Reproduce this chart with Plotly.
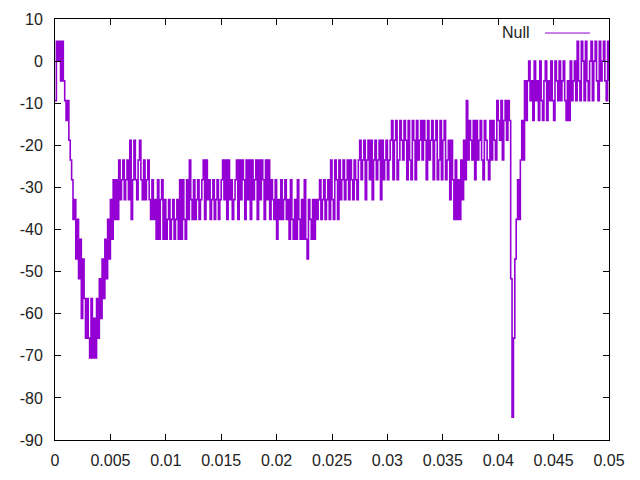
# plot.py
# gnuplot-style recreation of the "Null" trace (quantised signal, 0 - 0.05 s)

import plotly.graph_objects as go

# sample spacing of the trace (x axis), first sample at 0
sample_start = 0.0
sample_step = 0.000125

# trace values, one per sample
null_values = [
    # start + fall into the first trough
    -9.4, 4.7, 0, 4.7, -4.7, 4.7, -4.7, -9.4, -14.1, -9.4,
    -18.8, -23.5, -28.2, -37.6, -32.9, -47.0, -37.6, -51.7, -42.3, -61.1,
    -47.0, -56.4, -65.8, -56.4, -65.8, -70.5, -56.4, -70.5, -61.1, -70.5,
    -56.4, -65.8, -51.7, -61.1, -47.0, -56.4, -42.3, -51.7, -37.6, -47.0,
    -32.9, -42.3, -28.2, -37.6, -28.2, -37.6, -23.5, -32.9,
    # plateau around -30
    -28.2, -23.5, -32.9, -28.2, -23.5, -32.9, -18.8, -37.6, -28.2, -18.8,
    -28.2, -32.9, -23.5, -18.8, -28.2, -32.9, -23.5, -32.9, -28.2, -23.5,
    -32.9, -37.6, -28.2, -37.6, -32.9, -42.3, -28.2, -42.3, -32.9,
    -28.2, -42.3, -32.9, -42.3, -37.6, -32.9, -42.3, -37.6, -32.9, -42.3,
    -37.6, -32.9, -42.3, -28.2, -42.3, -28.2, -37.6, -42.3, -28.2,
    -37.6, -23.5, -32.9, -37.6, -28.2, -37.6, -32.9, -28.2, -37.6, -32.9,
    -28.2, -23.5, -37.6, -23.5, -32.9, -28.2, -37.6, -32.9, -28.2, -37.6,
    -32.9, -28.2, -37.6, -32.9, -28.2, -23.5, -32.9, -23.5, -37.6, -23.5,
    -32.9, -28.2, -37.6, -32.9, -28.2, -23.5, -37.6, -23.5, -32.9, -23.5,
    -28.2, -37.6, -23.5, -32.9, -23.5, -37.6, -23.5, -32.9, -28.2, -23.5,
    -37.6, -23.5, -32.9, -23.5, -28.2, -37.6, -23.5, -32.9, -23.5, -37.6, -28.2, -32.9,
    -37.6, -28.2, -42.3, -32.9, -37.6, -28.2, -37.6, -32.9, -28.2, -37.6,
    -32.9, -42.3, -28.2, -37.6, -42.3, -32.9, -42.3, -28.2, -37.6, -42.3,
    -32.9, -42.3, -28.2, -42.3, -47.0, -32.9, -37.6, -42.3, -32.9, -42.3, -32.9,
    # slow rise
    -37.6, -32.9, -28.2, -37.6, -32.9, -28.2, -37.6, -32.9, -28.2, -37.6,
    -23.5, -32.9, -37.6, -23.5, -28.2, -37.6, -23.5, -32.9, -28.2,
    -23.5, -32.9, -28.2, -23.5, -32.9, -23.5, -28.2, -32.9, -23.5, -28.2, -32.9, -23.5,
    -18.8, -28.2, -23.5, -18.8, -32.9, -23.5, -18.8, -28.2, -18.8, -32.9,
    -23.5, -18.8, -28.2, -23.5, -18.8, -32.9, -18.8, -28.2, -23.5, -18.8, -28.2, -23.5,
    -18.8, -14.1, -28.2, -18.8, -14.1, -28.2, -23.5, -14.1, -18.8, -23.5,
    -14.1, -18.8, -28.2, -14.1, -23.5, -28.2, -14.1, -18.8, -28.2, -14.1,
    -23.5, -18.8, -14.1, -23.5, -14.1, -18.8, -28.2, -14.1, -23.5, -18.8,
    -14.1, -28.2, -18.8, -14.1, -28.2, -23.5, -14.1, -28.2, -18.8, -14.1, -28.2,
    -23.5, -18.8, -32.9, -18.8, -28.2, -37.6, -23.5, -37.6, -28.2, -37.6,
    -23.5, -32.9, -18.8, -28.2, -9.4,
    -23.5, -14.1, -18.8, -23.5, -14.1, -28.2, -14.1, -23.5, -18.8, -14.1,
    -23.5, -28.2, -14.1, -18.8, -23.5, -28.2, -14.1, -23.5, -14.1,
    -18.8, -23.5, -9.4, -14.1, -18.8, -9.4, -23.5, -14.1, -9.4, -18.8, -9.4, -14.1,
    # sharp dip
    -51.7, -84.6, -65.8, -47.0, -37.6, -28.2, -37.6, -23.5, -14.1, -23.5, -4.7, -14.1,
    # near zero to the end
    -4.7, 0, -9.4, -4.7, -14.1, 0, -9.4, -4.7, -14.1, 0,
    -9.4, -14.1, -4.7, 0, -14.1, -4.7, -9.4, 0, -9.4, -14.1,
    0, -4.7, -9.4, 0, -9.4, -4.7, 0, -9.4, -14.1, -4.7,
    -14.1, 0, -9.4, -4.7, 0, -9.4,
    4.7, -4.7, -9.4, 4.7, 0, -9.4, 4.7, -4.7, -9.4, 0,
    4.7, -9.4, 0, 4.7, -4.7, -9.4, 4.7, -4.7, 0, 4.7,
    -4.7, -9.4, 4.7, -4.7,
]

# axis ticks (gnuplot prints plain hyphen minus signs)
x_ticks = [0, 0.005, 0.01, 0.015, 0.02, 0.025, 0.03, 0.035, 0.04, 0.045, 0.05]
x_tick_text = ["0", "0.005", "0.01", "0.015", "0.02", "0.025", "0.03", "0.035", "0.04", "0.045", "0.05"]
y_ticks = [10, 0, -10, -20, -30, -40, -50, -60, -70, -80, -90]
y_tick_text = ["10", "0", "-10", "-20", "-30", "-40", "-50", "-60", "-70", "-80", "-90"]

line_color = "#9400d3"
font = dict(family="Liberation Sans, Arial, sans-serif", size=16, color="#222222")

fig = go.Figure()
fig.add_trace(go.Scatter(
    y=null_values,
    x0=sample_start,
    dx=sample_step,
    mode="lines",
    name="Null",
    # the original is sampled much finer; steps with a slightly heavier pen
    # give the same solid vertical band look
    line=dict(color=line_color, width=1.6, shape="hv"),
    showlegend=False,
))

axis_style = dict(
    showgrid=False,
    zeroline=False,
    showline=True,
    linecolor="black",
    linewidth=1,
    mirror="ticks",
    ticks="inside",
    ticklen=6,
    tickwidth=1,
    tickcolor="black",
    tickfont=font,
    automargin=False,
)

# page body has an 8px margin, so the figure is sized to fit inside 640x480
fig.update_layout(
    width=624,
    height=464,
    plot_bgcolor="white",
    paper_bgcolor="white",
    margin=dict(l=47, r=23, t=11, b=32),
    font=font,
    xaxis=dict(range=[0, 0.05], tickvals=x_ticks, ticktext=x_tick_text,
               ticklabelstandoff=6, **axis_style),
    yaxis=dict(range=[-90, 10], tickvals=y_ticks, ticktext=y_tick_text,
               ticklabelstandoff=8, **axis_style),
)

# gnuplot key: title on the left, line sample on the right
fig.add_annotation(
    text="Null", xref="paper", yref="paper", x=0.861, y=0.967,
    xanchor="right", yanchor="middle", showarrow=False, font=font,
)
fig.add_shape(
    type="line", xref="paper", yref="paper",
    x0=0.8845, x1=0.9657, y0=0.9667, y1=0.9667,
    line=dict(color=line_color, width=1),
)

fig.write_html("out.html")
